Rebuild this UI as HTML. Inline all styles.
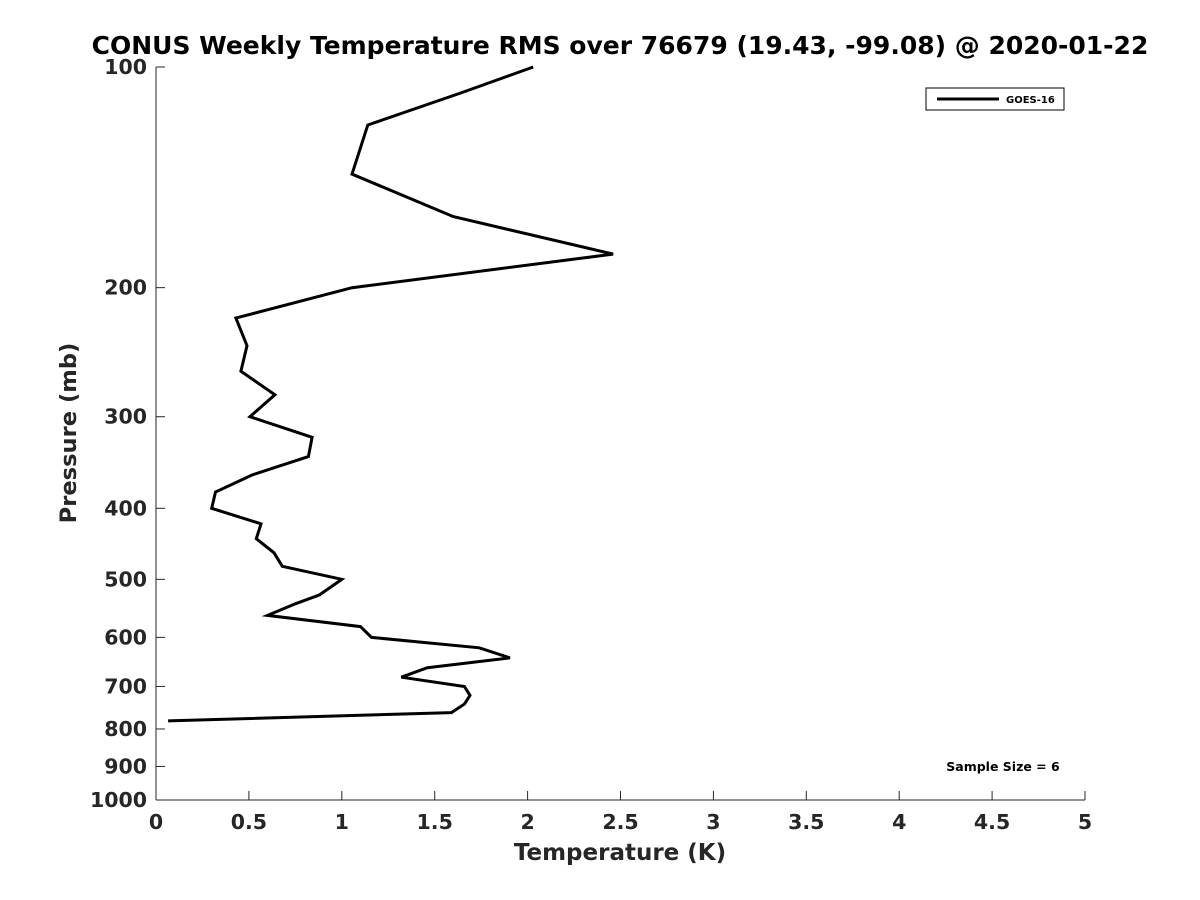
<!DOCTYPE html>
<html><head><meta charset="utf-8"><style>
body{margin:0;background:#fff;}
svg{display:block;font-family:"DejaVu Sans","Liberation Sans",sans-serif;font-weight:bold;}
</style></head><body>
<svg id="chart" width="1200" height="900">
<rect width="1200" height="900" fill="#fff"/>
<text x="620" y="54" font-size="25" text-anchor="middle" fill="#000">CONUS Weekly Temperature RMS over 76679 (19.43, -99.08) @ 2020-01-22</text>
<g id="axes"></g>
<g id="series"></g>
<text x="620" y="860" font-size="23" text-anchor="middle" fill="#262626">Temperature (K)</text>
<text transform="translate(76,433) rotate(-90)" font-size="22.6" text-anchor="middle" fill="#262626">Pressure (mb)</text>
<g>
<rect x="926" y="88" width="138" height="22" fill="#fff" stroke="#000" stroke-width="1"/>
<line x1="937" y1="99" x2="999" y2="99" stroke="#000" stroke-width="3"/>
<text x="1006" y="103" font-size="10" fill="#000">GOES-16</text>
</g>
<text x="1003" y="771" font-size="12.5" text-anchor="middle" fill="#000">Sample Size = 6</text>
</svg>
<script>
const temps=[2.03,1.64,1.14,1.055,1.60,2.46,1.055,0.43,0.49,0.457,0.64,0.506,0.84,0.82,0.52,0.32,0.30,0.565,0.54,0.635,0.68,1.0,0.88,0.75,0.60,1.10,1.16,1.74,1.905,1.46,1.32,1.66,1.69,1.66,1.59,0.065];
const pressures=[100,108.5,120,140,160,180,200,220,240,260,280,300,320,340,360,380,400,420,440,460,480,500,525,540,560,580,600,620,640,660,680,700,720,740,760,780];
const xTicks=[0,0.5,1,1.5,2,2.5,3,3.5,4,4.5,5];
const xTickLabels=["0","0.5","1","1.5","2","2.5","3","3.5","4","4.5","5"];
const yTicks=[100,200,300,400,500,600,700,800,900,1000];
const yTickLabels=["100","200","300","400","500","600","700","800","900","1000"];

const X0=156,X1=1085,Y0=67,Y1=800;
function xs(v){return X0+(v-0)/(5-0)*(X1-X0);}
function ys(p){return Y0+(Math.log10(p)-2)/(3-2)*(Y1-Y0);}
const NS="http://www.w3.org/2000/svg";
const axes=document.getElementById('axes');
function mk(t,a,parent){const e=document.createElementNS(NS,t);for(const k in a)e.setAttribute(k,a[k]);parent.appendChild(e);return e;}

const xl=mk('line',{x1:X0,y1:Y1,x2:X1,y2:Y1,stroke:'#262626','stroke-width':1},axes);


const yl=mk('line',{x1:X0,y1:Y0,x2:X0,y2:Y1,stroke:'#262626','stroke-width':1},axes);



xTicks.forEach((v,i)=>{
  const x=xs(v);
  const t=mk('line',{x1:x,y1:Y1,x2:x,y2:Y1-9,stroke:'#262626','stroke-width':1},axes);
  
  
  const l=mk('text',{x:x,y:Y1+29,'font-size':20.5,'text-anchor':'middle',fill:'#262626'},axes);
  l.textContent=xTickLabels[i];
  
  
});
yTicks.forEach((v,i)=>{
  const y=ys(v);
  const t=mk('line',{x1:X0,y1:y,x2:X0+9,y2:y,stroke:'#262626','stroke-width':1},axes);
  
  
  const l=mk('text',{x:X0-9,y:y+7,'font-size':20.5,'text-anchor':'end',fill:'#262626'},axes);
  l.textContent=yTickLabels[i];
  
  
});

const pts=temps.map((t,i)=>xs(t).toFixed(1)+','+ys(pressures[i]).toFixed(1)).join(' ');
const line=mk('polyline',{points:pts,fill:'none',stroke:'#000','stroke-width':3,'stroke-linejoin':'miter'},document.getElementById('series'));


</script>
</body></html>
